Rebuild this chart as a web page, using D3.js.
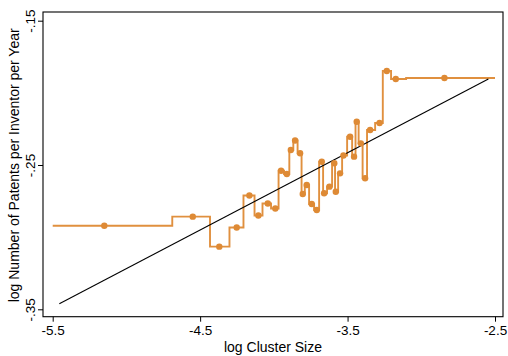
<!DOCTYPE html>
<html>
<head>
<meta charset="utf-8">
<script src="https://cdn.jsdelivr.net/npm/d3@7"></script>
<style>
  body { margin: 0; background: #fff; }
  svg { display: block; font-family: "Liberation Sans", Arial, Helvetica, sans-serif; }
</style>
</head>
<body>
<svg id="chart" width="508" height="356"></svg>
<script>
// ---- data ----
const xTicks = [-5.5, -4.5, -3.5, -2.5];
const xTickLabels = ["-5.5", "-4.5", "-3.5", "-2.5"];
const yTicks = [-0.35, -0.25, -0.15];
const yTickLabels = ["-.35", "-.25", "-.15"];

// stair-step line: start x of each level, and its level
const stepX = [-5.5, -4.689, -4.433, -4.301, -4.206, -4.131, -4.077, -4.019, -3.968, -3.931,
  -3.895, -3.868, -3.839, -3.812, -3.790, -3.761, -3.727, -3.693, -3.666, -3.639,
  -3.605, -3.585, -3.564, -3.537, -3.503, -3.469, -3.446, -3.425, -3.398, -3.368,
  -3.313, -3.261, -3.205, -3.103];
const stepY = [-0.2921, -0.2858, -0.3066, -0.2933, -0.2711, -0.2850, -0.2767, -0.2801, -0.2540, -0.2562,
  -0.2396, -0.2330, -0.2419, -0.2701, -0.2639, -0.2770, -0.2812, -0.2477, -0.2696, -0.2650,
  -0.2488, -0.2685, -0.2558, -0.2434, -0.2304, -0.2442, -0.2200, -0.2350, -0.2592, -0.2257,
  -0.2209, -0.1849, -0.1904, -0.1897];
const stepEndX = -2.5;

// bin-mean dots
const dotX = [-5.150, -4.550, -4.370, -4.252, -4.166, -4.105, -4.041, -3.990, -3.951, -3.912,
  -3.885, -3.856, -3.822, -3.804, -3.777, -3.743, -3.709, -3.675, -3.659, -3.623,
  -3.590, -3.580, -3.551, -3.528, -3.483, -3.456, -3.438, -3.410, -3.381, -3.347,
  -3.283, -3.234, -3.173, -2.843];
const dotY = [-0.2921, -0.2858, -0.3066, -0.2933, -0.2711, -0.2850, -0.2767, -0.2801, -0.2540, -0.2562,
  -0.2396, -0.2330, -0.2419, -0.2701, -0.2639, -0.2770, -0.2812, -0.2477, -0.2696, -0.2650,
  -0.2488, -0.2685, -0.2558, -0.2434, -0.2304, -0.2442, -0.2200, -0.2350, -0.2592, -0.2257,
  -0.2209, -0.1849, -0.1904, -0.1897];

// linear fit line endpoints
const fitX = [-5.455, -2.545];
const fitY = [-0.3461, -0.1904];

const xTitle = "log Cluster Size";
const yTitle = "log Number of Patents per Inventor per Year";

// ---- layout ----
const svg = d3.select("#chart");
const pLeft = 43, pRight = 503, pTop = 12, pBottom = 316.7;

const x = d3.scaleLinear().domain([-5.5, -2.5]).range([52.7, 495]);
const y = d3.scaleLinear().domain([-0.35, -0.15]).range([309.3, 20.7]);

const orange = "#DE8A35";
const font = "Liberation Sans, Arial, sans-serif";

// frame
svg.append("rect")
  .attr("x", pLeft).attr("y", pTop)
  .attr("width", pRight - pLeft).attr("height", pBottom - pTop)
  .attr("fill", "none").attr("stroke", "#000").attr("stroke-width", 1.1);

// x axis
const xAxis = d3.axisBottom(x).tickValues(xTicks)
  .tickFormat((d, i) => xTickLabels[i]).tickSize(5).tickPadding(4);
const gx = svg.append("g").attr("transform", `translate(0,${pBottom})`).call(xAxis);
gx.select(".domain").remove();
gx.selectAll("line").attr("stroke", "#000");
gx.selectAll("text").attr("font-size", 13.5).attr("fill", "#000")
  .attr("font-family", font);

// y axis
const yAxis = d3.axisLeft(y).tickValues(yTicks)
  .tickFormat((d, i) => yTickLabels[i]).tickSize(5);
const gy = svg.append("g").attr("transform", `translate(${pLeft},0)`).call(yAxis);
gy.select(".domain").remove();
gy.selectAll("line").attr("stroke", "#000");
gy.selectAll("text")
  .attr("font-size", 13.5).attr("fill", "#000")
  .attr("font-family", font)
  .attr("text-anchor", "middle")
  .attr("transform", "rotate(-90)")
  .attr("x", 0).attr("y", -8.5).attr("dy", 0);

// axis titles
svg.append("text")
  .attr("x", (pLeft + pRight) / 2).attr("y", 351.5)
  .attr("text-anchor", "middle").attr("font-size", 14).text(xTitle);
svg.append("text")
  .attr("transform", `translate(18.5,${(pTop + pBottom) / 2 + 1}) rotate(-90)`)
  .attr("text-anchor", "middle").attr("font-size", 14).text(yTitle);

// stair-step line
const stepPts = stepX.map((v, i) => [v, stepY[i]]);
stepPts.push([stepEndX, stepY[stepY.length - 1]]);
const stepLine = d3.line().x(d => x(d[0])).y(d => y(d[1])).curve(d3.curveStepAfter);
svg.append("path").datum(stepPts)
  .attr("d", stepLine)
  .attr("fill", "none").attr("stroke", orange).attr("stroke-width", 1.9)
  .attr("stroke-opacity", 0.95);

// fit line
const fitPts = fitX.map((v, i) => [v, fitY[i]]);
svg.append("path").datum(fitPts)
  .attr("d", d3.line().x(d => x(d[0])).y(d => y(d[1])))
  .attr("fill", "none").attr("stroke", "#000").attr("stroke-width", 1.1);

// dots
svg.append("g").selectAll("circle")
  .data(dotX.map((v, i) => [v, dotY[i]]))
  .join("circle")
  .attr("cx", d => x(d[0])).attr("cy", d => y(d[1]))
  .attr("r", 3.2).attr("fill", orange);
</script>
</body>
</html>
